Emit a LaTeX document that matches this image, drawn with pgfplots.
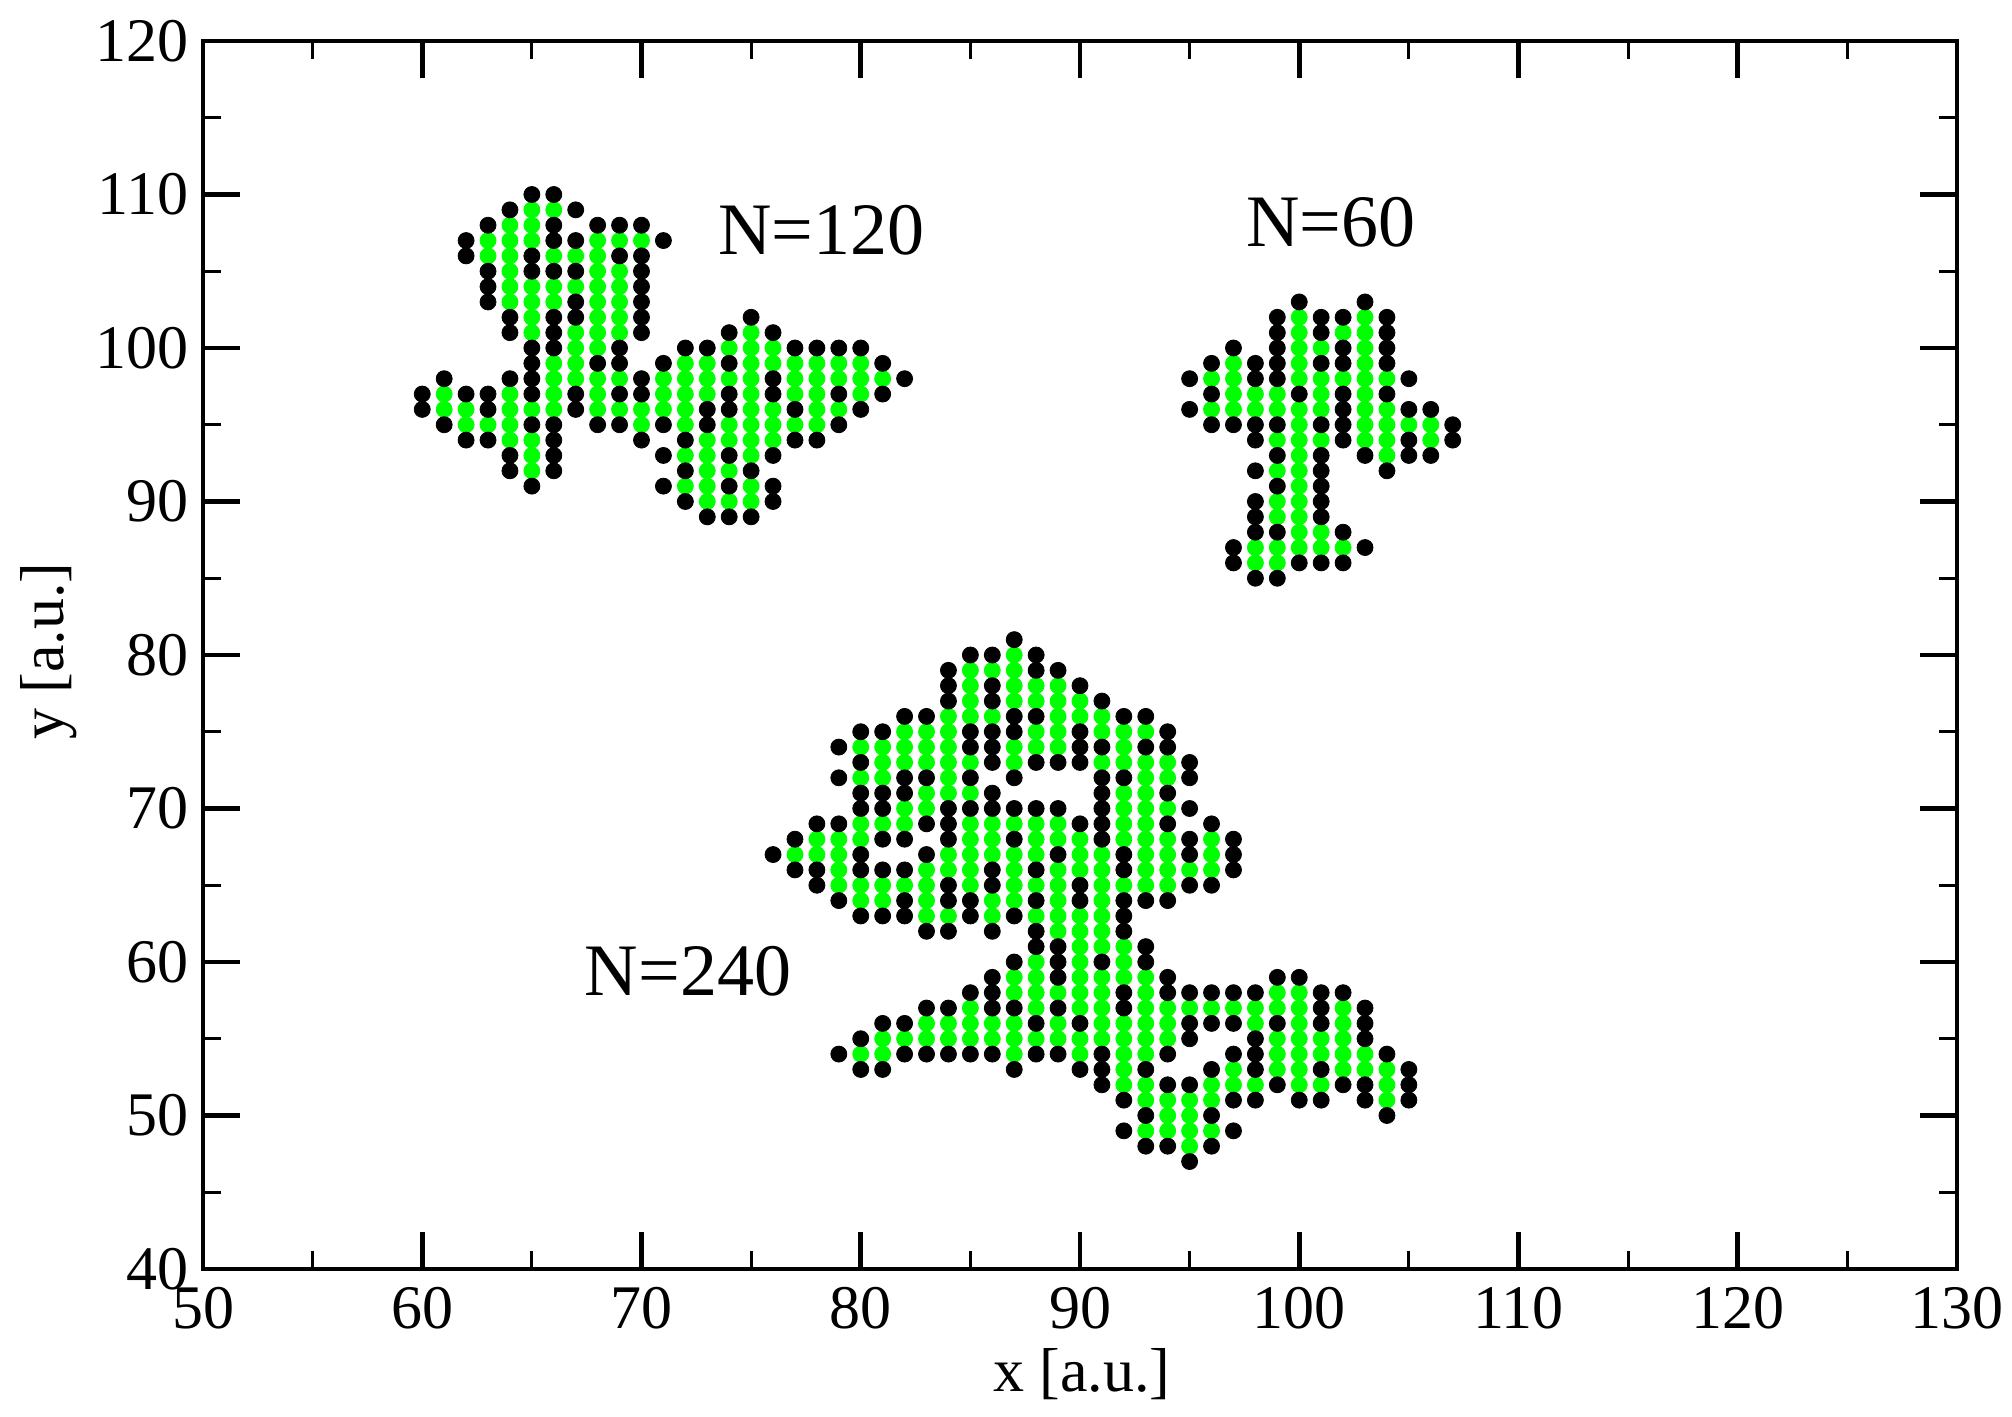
\documentclass[border=0pt]{standalone}
\usepackage{pgfplots}
\pgfplotsset{compat=1.18}
\usepackage{fontspec}
\setmainfont{Liberation Serif}
\definecolor{puregreen}{RGB}{0,255,0}
\begin{document}
\begin{tikzpicture}[x=1pt,y=1pt]
\useasboundingbox (0,0) rectangle (1006,708.5);
\begin{axis}[
  at={(101.5pt,74pt)}, anchor=south west,
  scale only axis, width=877pt, height=614pt,
  xmin=50, xmax=130, ymin=40, ymax=120,
  xtick={50,60,70,80,90,100,110,120,130},
  ytick={40,50,60,70,80,90,100,110,120},
  minor x tick num=1, minor y tick num=1,
  tick align=inside,
  major tick length=18.5pt, minor tick length=9pt,
  axis line style={line width=2.2pt},
  major tick style={line width=2.4pt,black},
  minor tick style={line width=1.4pt,black},
  /pgf/number format/assume math mode=true,
  tick label style={font=\fontsize{31}{31}\selectfont},
  xticklabel style={inner sep=0pt,yshift=-9pt},
  yticklabel style={inner sep=0pt,xshift=-7.2pt},
  xlabel={x [a.u.]}, ylabel={y [a.u.]},
  every axis x label/.style={at={(axis description cs:0.5,0)},anchor=north,xshift=1pt,yshift=-36.4pt,font=\fontsize{31}{31}\selectfont},
  every axis y label/.style={at={(axis description cs:0,0.5)},anchor=south,rotate=90,xshift=1.9pt,yshift=59.7pt,font=\fontsize{31}{31}\selectfont},
  clip=false,
]
\addplot[only marks, color=puregreen, mark=*, mark size=4pt, line width=0.4pt, mark options={solid,draw=puregreen,fill=puregreen}] coordinates {
(61,96)(61,97)
(62,95)(62,96)
(63,95)(63,106)(63,107)
(64,94)(64,95)(64,96)(64,97)(64,103)(64,104)(64,105)(64,106)(64,107)(64,108)
(65,92)(65,93)(65,94)(65,96)(65,101)(65,102)(65,103)(65,104)(65,107)(65,108)(65,109)
(66,96)(66,97)(66,98)(66,99)(66,103)(66,104)(66,106)(66,109)
(67,98)(67,99)(67,100)(67,101)(67,104)(67,106)
(68,96)(68,97)(68,98)(68,100)(68,101)(68,102)(68,103)(68,104)(68,105)(68,106)(68,107)
(69,96)(69,98)(69,101)(69,102)(69,103)(69,104)(69,105)(69,107)
(70,95)(70,96)(70,107)
(71,96)(71,97)(71,98)
(72,91)(72,93)(72,95)(72,96)(72,97)(72,98)(72,99)
(73,90)(73,91)(73,92)(73,93)(73,94)(73,97)(73,98)(73,99)
(74,90)(74,92)(74,94)(74,95)(74,98)(74,100)
(75,90)(75,91)(75,93)(75,94)(75,95)(75,96)(75,97)(75,98)(75,99)(75,100)(75,101)
(76,94)(76,95)(76,96)(76,99)(76,100)
(77,95)(77,97)(77,98)(77,99)
(78,95)(78,96)(78,97)(78,98)(78,99)
(79,96)(79,98)(79,99)
(80,97)(80,98)(80,99)
(81,98)
(96,96)(96,98)
(97,96)(97,97)(97,98)(97,99)
(98,86)(98,87)(98,96)(98,97)
(99,86)(99,87)(99,89)(99,90)(99,92)(99,94)(99,96)(99,97)
(100,87)(100,88)(100,89)(100,90)(100,91)(100,92)(100,93)(100,94)(100,95)(100,96)(100,98)(100,99)(100,100)(100,101)(100,102)
(101,87)(101,88)(101,94)(101,96)(101,97)(101,98)(101,100)
(102,87)(102,98)(102,101)
(103,94)(103,95)(103,96)(103,97)(103,98)(103,99)(103,100)(103,101)(103,102)
(104,93)(104,94)(104,95)(104,96)(104,98)
(105,95)
(106,94)(106,95)
(77,67)
(78,67)(78,68)
(79,65)(79,66)(79,67)(79,68)
(80,54)(80,64)(80,65)(80,68)(80,69)(80,72)(80,74)
(81,54)(81,55)(81,64)(81,65)(81,69)(81,72)(81,73)(81,74)
(82,55)(82,65)(82,69)(82,70)(82,73)(82,74)(82,75)
(83,55)(83,56)(83,63)(83,64)(83,65)(83,66)(83,70)(83,71)(83,73)(83,74)(83,75)
(84,55)(84,56)(84,63)(84,66)(84,67)(84,71)(84,72)(84,73)(84,74)(84,75)(84,76)
(85,55)(85,56)(85,57)(85,65)(85,66)(85,67)(85,68)(85,69)(85,71)(85,73)(85,76)(85,77)(85,78)(85,79)
(86,55)(86,56)(86,63)(86,64)(86,67)(86,68)(86,69)(86,76)(86,79)
(87,54)(87,55)(87,56)(87,58)(87,59)(87,64)(87,65)(87,66)(87,67)(87,69)(87,73)(87,74)(87,77)(87,78)(87,79)(87,80)
(88,55)(88,57)(88,58)(88,59)(88,60)(88,63)(88,65)(88,67)(88,68)(88,69)(88,74)(88,75)(88,77)(88,78)
(89,55)(89,56)(89,58)(89,62)(89,63)(89,64)(89,65)(89,66)(89,68)(89,69)(89,74)(89,75)(89,76)(89,77)(89,78)
(90,54)(90,55)(90,57)(90,58)(90,59)(90,60)(90,61)(90,62)(90,63)(90,66)(90,67)(90,68)(90,76)(90,77)
(91,55)(91,56)(91,57)(91,58)(91,59)(91,61)(91,62)(91,63)(91,64)(91,65)(91,66)(91,67)(91,73)(91,75)(91,76)
(92,52)(92,53)(92,54)(92,55)(92,56)(92,59)(92,60)(92,61)(92,65)(92,68)(92,69)(92,70)(92,71)(92,73)(92,74)(92,75)
(93,49)(93,51)(93,52)(93,54)(93,55)(93,56)(93,57)(93,58)(93,59)(93,65)(93,66)(93,67)(93,68)(93,69)(93,70)(93,71)(93,72)(93,73)(93,75)
(94,49)(94,50)(94,51)(94,55)(94,56)(94,57)(94,65)(94,66)(94,67)(94,68)(94,70)(94,72)(94,73)
(95,48)(95,49)(95,50)(95,51)(95,57)(95,66)
(96,49)(96,51)(96,52)(96,57)(96,66)(96,67)(96,68)
(97,52)(97,53)(97,57)
(98,52)(98,56)(98,57)
(99,53)(99,54)(99,55)(99,57)(99,58)
(100,52)(100,53)(100,54)(100,55)(100,56)(100,57)(100,58)
(101,52)(101,54)(101,55)
(102,53)(102,54)(102,55)(102,56)(102,57)
(103,53)(103,54)
(104,51)(104,52)(104,53)
};
\addplot[only marks, color=black, mark=*, mark size=4pt, line width=0.4pt, mark options={solid,draw=black,fill=black}] coordinates {
(60,96)(60,97)
(61,95)(61,98)
(62,94)(62,97)(62,106)(62,107)
(63,94)(63,96)(63,97)(63,103)(63,104)(63,105)(63,108)
(64,92)(64,93)(64,98)(64,101)(64,102)(64,109)
(65,91)(65,95)(65,97)(65,98)(65,99)(65,100)(65,105)(65,106)(65,110)
(66,92)(66,93)(66,94)(66,95)(66,100)(66,101)(66,102)(66,105)(66,107)(66,108)(66,110)
(67,96)(67,97)(67,102)(67,103)(67,105)(67,107)(67,109)
(68,95)(68,99)(68,108)
(69,95)(69,97)(69,99)(69,100)(69,106)(69,108)
(70,94)(70,97)(70,98)(70,101)(70,102)(70,103)(70,104)(70,105)(70,106)(70,108)
(71,91)(71,93)(71,95)(71,99)(71,107)
(72,90)(72,92)(72,94)(72,100)
(73,89)(73,95)(73,96)(73,100)
(74,89)(74,91)(74,93)(74,96)(74,97)(74,99)(74,101)
(75,89)(75,92)(75,102)
(76,90)(76,91)(76,93)(76,97)(76,98)(76,101)
(77,94)(77,96)(77,100)
(78,94)(78,100)
(79,95)(79,97)(79,100)
(80,96)(80,100)
(81,97)(81,99)
(82,98)
(95,96)(95,98)
(96,95)(96,97)(96,99)
(97,86)(97,87)(97,95)(97,100)
(98,85)(98,88)(98,89)(98,90)(98,92)(98,94)(98,95)(98,98)(98,99)
(99,85)(99,88)(99,91)(99,93)(99,95)(99,98)(99,99)(99,100)(99,101)(99,102)
(100,86)(100,97)(100,103)
(101,86)(101,89)(101,90)(101,91)(101,92)(101,93)(101,95)(101,99)(101,101)(101,102)
(102,86)(102,88)(102,94)(102,95)(102,96)(102,97)(102,99)(102,100)(102,102)
(103,87)(103,93)(103,103)
(104,92)(104,97)(104,99)(104,100)(104,101)(104,102)
(105,93)(105,94)(105,96)(105,98)
(106,93)(106,96)
(107,94)(107,95)
(76,67)
(77,66)(77,68)
(78,65)(78,66)(78,69)
(79,54)(79,64)(79,69)(79,72)(79,74)
(80,53)(80,55)(80,63)(80,66)(80,67)(80,70)(80,71)(80,73)(80,75)
(81,53)(81,56)(81,63)(81,66)(81,68)(81,70)(81,71)(81,75)
(82,54)(82,56)(82,63)(82,64)(82,66)(82,68)(82,71)(82,72)(82,76)
(83,54)(83,57)(83,62)(83,67)(83,69)(83,72)(83,76)
(84,54)(84,57)(84,62)(84,64)(84,65)(84,68)(84,69)(84,70)(84,77)(84,78)(84,79)
(85,54)(85,58)(85,63)(85,64)(85,70)(85,72)(85,74)(85,75)(85,80)
(86,54)(86,57)(86,58)(86,59)(86,62)(86,65)(86,66)(86,70)(86,71)(86,73)(86,74)(86,75)(86,77)(86,78)(86,80)
(87,53)(87,57)(87,60)(87,63)(87,68)(87,70)(87,72)(87,75)(87,76)(87,81)
(88,54)(88,56)(88,61)(88,62)(88,64)(88,66)(88,70)(88,73)(88,76)(88,79)(88,80)
(89,54)(89,57)(89,59)(89,60)(89,61)(89,67)(89,70)(89,73)(89,79)
(90,53)(90,56)(90,64)(90,65)(90,69)(90,73)(90,74)(90,75)(90,78)
(91,52)(91,53)(91,54)(91,60)(91,68)(91,69)(91,70)(91,71)(91,72)(91,74)(91,77)
(92,49)(92,51)(92,57)(92,58)(92,62)(92,63)(92,64)(92,66)(92,67)(92,72)(92,76)
(93,48)(93,50)(93,53)(93,60)(93,61)(93,64)(93,74)(93,76)
(94,48)(94,52)(94,54)(94,58)(94,59)(94,64)(94,69)(94,71)(94,74)(94,75)
(95,47)(95,52)(95,55)(95,56)(95,58)(95,65)(95,67)(95,68)(95,70)(95,72)(95,73)
(96,48)(96,50)(96,53)(96,56)(96,58)(96,65)(96,69)
(97,49)(97,51)(97,54)(97,56)(97,58)(97,66)(97,67)(97,68)
(98,51)(98,53)(98,54)(98,55)(98,58)
(99,52)(99,56)(99,59)
(100,51)(100,59)
(101,51)(101,53)(101,56)(101,57)(101,58)
(102,52)(102,58)
(103,51)(103,52)(103,55)(103,56)(103,57)
(104,50)(104,54)
(105,51)(105,52)(105,53)
};
\node[font=\fontsize{37}{37}\selectfont] at (axis cs:78.2,107.7) {N=120};
\node[font=\fontsize{37}{37}\selectfont] at (axis cs:101.45,108.2) {N=60};
\node[font=\fontsize{37}{37}\selectfont] at (axis cs:72.12,59.4) {N=240};
\end{axis}
\end{tikzpicture}
\end{document}
